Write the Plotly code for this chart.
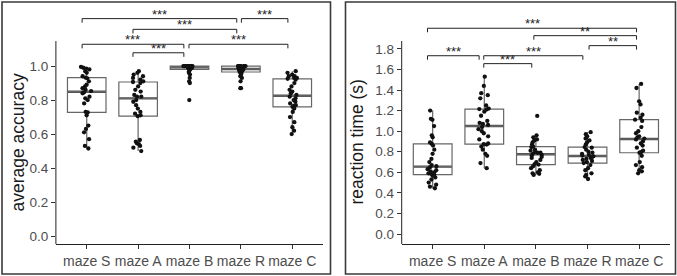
import numpy as np
import plotly.graph_objects as go

# ---------------- data ----------------
categories = ["maze S", "maze A", "maze B", "maze R", "maze C"]

acc_S = [0.515, 0.53, 0.57, 0.61, 0.63, 0.65, 0.71, 0.727, 0.73, 0.78, 0.80, 0.81, 0.82, 0.84, 0.845,
         0.853, 0.86, 0.87, 0.88, 0.89, 0.91, 0.928, 0.932, 0.94, 0.96, 0.97, 0.98, 0.985, 0.99, 0.995]
acc_A = [0.50, 0.52, 0.53, 0.54, 0.545, 0.555, 0.565, 0.705, 0.71, 0.72, 0.73, 0.75, 0.77, 0.79, 0.80,
         0.82, 0.82, 0.83, 0.85, 0.86, 0.88, 0.90, 0.906, 0.91, 0.92, 0.93, 0.94, 0.95, 0.96, 0.97]
acc_B = [0.80, 0.90, 0.91, 0.93, 0.95, 0.96, 0.97, 0.98, 0.98, 0.985, 0.985, 0.99, 0.99, 0.99, 0.99,
         0.995, 0.995, 0.995, 1.0, 1.0, 1.0, 1.0, 1.0, 1.0, 1.0, 1.0, 1.0, 1.0, 1.0, 1.0]
acc_R = [0.87, 0.87, 0.91, 0.93, 0.94, 0.95, 0.96, 0.965, 0.97, 0.975, 0.975, 0.98, 0.98, 0.98, 0.98,
         0.985, 0.99, 0.99, 0.99, 0.995, 1.0, 1.0, 1.0, 1.0, 1.0, 1.0, 1.0, 1.0, 1.0, 1.0]
acc_C = [0.60, 0.62, 0.64, 0.67, 0.70, 0.73, 0.75, 0.76, 0.765, 0.77, 0.78, 0.79, 0.80, 0.81, 0.82,
         0.83, 0.84, 0.85, 0.86, 0.88, 0.90, 0.92, 0.925, 0.93, 0.93, 0.94, 0.94, 0.95, 0.96, 0.97]

rt_S = [0.445, 0.46, 0.48, 0.50, 0.53, 0.55, 0.57, 0.578, 0.585, 0.59, 0.60, 0.61, 0.62, 0.63, 0.65,
        0.66, 0.67, 0.70, 0.73, 0.78, 0.82, 0.86, 0.876, 0.89, 0.94, 0.96, 1.05, 1.11, 1.12, 1.20]
rt_A = [0.64, 0.69, 0.76, 0.78, 0.82, 0.85, 0.87, 0.875, 0.88, 0.92, 0.95, 0.98, 1.00, 1.02, 1.04,
        1.06, 1.07, 1.08, 1.10, 1.15, 1.19, 1.21, 1.215, 1.22, 1.25, 1.32, 1.35, 1.37, 1.44, 1.53]
rt_B = [0.575, 0.585, 0.59, 0.60, 0.62, 0.64, 0.66, 0.675, 0.68, 0.70, 0.72, 0.74, 0.75, 0.76, 0.77,
        0.78, 0.79, 0.79, 0.80, 0.81, 0.82, 0.845, 0.85, 0.87, 0.89, 0.91, 0.92, 0.94, 0.96, 1.148]
rt_R = [0.535, 0.56, 0.575, 0.59, 0.62, 0.64, 0.67, 0.69, 0.70, 0.71, 0.72, 0.73, 0.74, 0.75, 0.755,
        0.763, 0.77, 0.78, 0.79, 0.80, 0.82, 0.84, 0.845, 0.87, 0.89, 0.91, 0.93, 0.95, 0.97, 0.99]
rt_C = [0.59, 0.61, 0.62, 0.65, 0.67, 0.70, 0.76, 0.79, 0.795, 0.81, 0.84, 0.86, 0.88, 0.90, 0.92,
        0.928, 0.94, 0.95, 0.98, 1.00, 1.04, 1.10, 1.112, 1.13, 1.16, 1.18, 1.26, 1.29, 1.42, 1.46]

acc_groups = [acc_S, acc_A, acc_B, acc_R, acc_C]
rt_groups = [rt_S, rt_A, rt_B, rt_R, rt_C]

acc_tick_labels = ["0.0", "0.2", "0.4", "0.6", "0.8", "1.0"]
rt_tick_labels = ["0.0", "0.2", "0.4", "0.6", "0.8", "1.0", "1.2", "1.4", "1.6", "1.8"]

# significance comparisons: (group1, group2, label)
acc_comparisons = [("maze S", "maze R", "***"), ("maze R", "maze C", "***"),
                   ("maze A", "maze R", "***"), ("maze S", "maze B", "***"),
                   ("maze B", "maze C", "***"), ("maze A", "maze B", "***")]
rt_comparisons = [("maze S", "maze C", "***"), ("maze B", "maze C", "**"),
                  ("maze R", "maze C", "**"), ("maze S", "maze A", "***"),
                  ("maze A", "maze R", "***"), ("maze A", "maze B", "***")]

# ---------------- layout settings ----------------
W, H = 677, 276
FONT = "Liberation Sans, Arial, sans-serif"
acc_bracket_levels = [1.279, 1.279, 1.216, 1.128, 1.128, 1.078]
acc_bracket_nudge = [(-0.09, -0.08), (0.01, -0.085), (-0.10, -0.08), (-0.09, -0.11), (-0.01, -0.085), (-0.10, -0.11)]
rt_bracket_levels = [2.001, 1.929, 1.832, 1.734, 1.734, 1.657]
rt_bracket_nudge = [(-0.10, -0.05), (-0.04, -0.05), (0.03, -0.05), (-0.10, -0.10), (-0.01, -0.09), (-0.01, -0.08)]

panels = [
    dict(groups=acc_groups, comps=acc_comparisons, levels=acc_bracket_levels, nudge=acc_bracket_nudge,
         xa="x", ya="y", xdom=[55.9 / W, 323.1 / W], yrange=[-0.047, 1.365], panel_top=1.147,
         ticks=acc_tick_labels, tip=0.024, title="average accuracy", title_x=17 / W,
         border=[2 / W, 330.5 / W]),
    dict(groups=rt_groups, comps=rt_comparisons, levels=rt_bracket_levels, nudge=rt_bracket_nudge,
         xa="x2", ya="y2", xdom=[401.7 / W, 670.1 / W], yrange=[-0.0973, 2.237], panel_top=1.877,
         ticks=rt_tick_labels, tip=0.039, title="reaction time (s)", title_x=356 / W,
         border=[345.5 / W, 675.5 / W]),
]

fig = go.Figure()
shapes = []
annotations = []
ydom = [32 / H, 272 / H]

for p in panels:
    xs, ys = [], []
    for i, g in enumerate(p["groups"]):
        xs += [i] * len(g)
        ys += g
    fig.add_trace(go.Box(
        x=xs, y=ys, xaxis=p["xa"], yaxis=p["ya"],
        boxpoints="all", jitter=0.32, pointpos=0, width=0.75, whiskerwidth=0,
        fillcolor="rgba(0,0,0,0)", line=dict(color="#666666", width=1.2),
        marker=dict(color="#111111", size=4.3), hoverinfo="skip", showlegend=False,
    ))
    # thicker median lines (ggplot style)
    for i, g in enumerate(p["groups"]):
        med = float(np.median(g))
        shapes.append(dict(type="line", xref=p["xa"], yref=p["ya"], x0=i - 0.375, x1=i + 0.375,
                           y0=med, y1=med, layer="below", line=dict(color="#505050", width=2.4)))
    # y axis line limited to the panel
    shapes.append(dict(type="line", xref=p["xa"] + " domain", yref=p["ya"], x0=0, x1=0,
                       y0=p["yrange"][0], y1=p["panel_top"], line=dict(color="#222222", width=1)))
    # significance brackets
    for (g1, g2, lab), lev, (n0, n1) in zip(p["comps"], p["levels"], p["nudge"]):
        a = categories.index(g1) + n0
        b = categories.index(g2) + n1
        shapes.append(dict(type="path", xref=p["xa"], yref=p["ya"],
                           path=f"M {a},{lev - p['tip']} L {a},{lev} L {b},{lev} L {b},{lev - p['tip']}",
                           line=dict(color="#222222", width=1)))
        annotations.append(dict(xref=p["xa"], yref=p["ya"], x=(a + b) / 2, y=lev, text=lab,
                                showarrow=False, yanchor="middle", yshift=4.5,
                                font=dict(family=FONT, size=13, color="#222222")))
    # axis title
    annotations.append(dict(xref="paper", yref="paper", x=p["title_x"], y=1 - 142.5 / H,
                            text=p["title"], textangle=-90, showarrow=False,
                            xanchor="center", yanchor="middle",
                            font=dict(family=FONT, size=17.5, color="#1a1a1a")))
    # panel border
    shapes.append(dict(type="rect", xref="paper", yref="paper", x0=p["border"][0], x1=p["border"][1],
                       y0=1 - 274 / H, y1=1 - 2 / H, line=dict(color="#3a3a3a", width=1.6)))

    xkey = "xaxis" if p["xa"] == "x" else "xaxis2"
    ykey = "yaxis" if p["ya"] == "y" else "yaxis2"
    fig.update_layout(**{
        xkey: dict(domain=p["xdom"], range=[-0.6, 4.6], anchor=p["ya"],
                   tickvals=list(range(len(categories))), ticktext=categories,
                   showline=True, linecolor="#222222", linewidth=1,
                   ticks="outside", ticklen=4, tickcolor="#333333", tickwidth=1,
                   showgrid=False, zeroline=False,
                   tickfont=dict(family=FONT, size=14, color="#4d4d4d")),
        ykey: dict(domain=ydom, range=p["yrange"], anchor=p["xa"],
                   tickvals=[float(t) for t in p["ticks"]], ticktext=p["ticks"],
                   showline=False, ticks="outside", ticklen=4, tickcolor="#333333", tickwidth=1,
                   showgrid=False, zeroline=False,
                   tickfont=dict(family=FONT, size=13.5, color="#4d4d4d")),
    })

fig.update_layout(width=W, height=H, margin=dict(l=0, r=0, t=0, b=0),
                  paper_bgcolor="white", plot_bgcolor="white", showlegend=False,
                  boxmode="overlay", shapes=shapes, annotations=annotations)

fig.write_html("out.html")
